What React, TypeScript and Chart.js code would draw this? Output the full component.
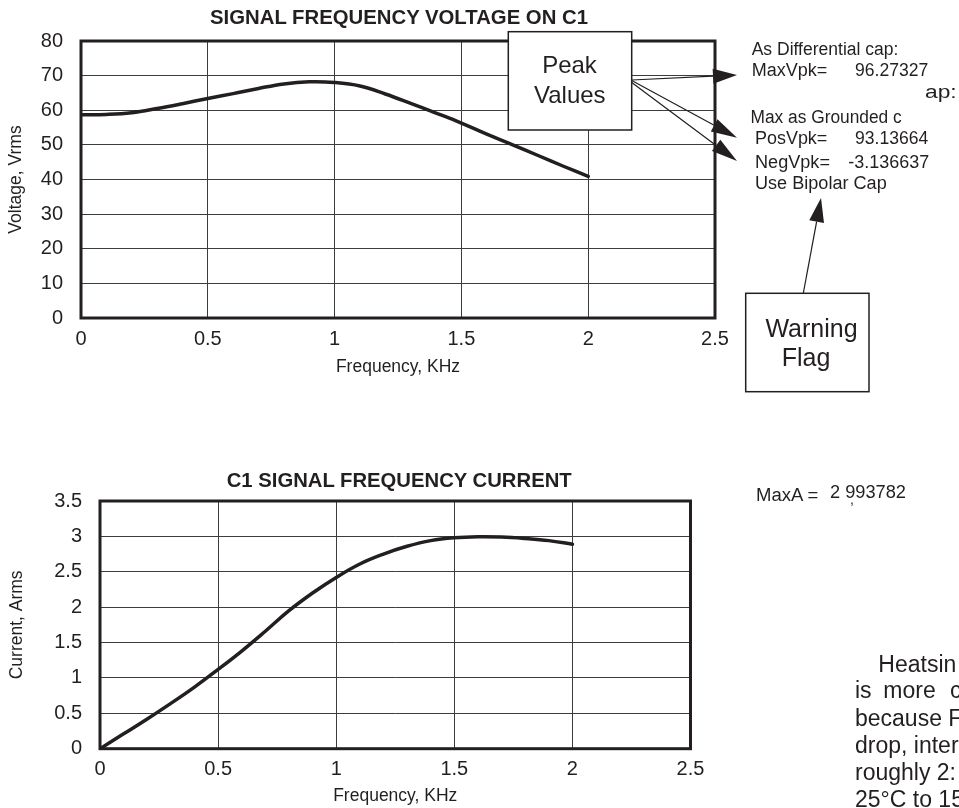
import React, { useEffect, useRef } from "react";
import { Chart, registerables } from "chart.js";

Chart.register(...registerables);

// ---------- data ----------
const freqKHz = [0, 0.1, 0.2, 0.3, 0.4, 0.5, 0.6, 0.7, 0.8, 0.9, 1.0, 1.1, 1.2, 1.3, 1.4, 1.5, 1.6, 1.7, 1.8, 1.9, 2.0];
const voltageVrms = [58.7, 58.8, 59.3, 60.5, 61.9, 63.4, 64.8, 66.3, 67.6, 68.2, 68.0, 67.0, 64.7, 62.0, 59.2, 56.3, 53.1, 50.1, 47.0, 43.9, 40.9];
const currentArms = [0, 0.21, 0.42, 0.64, 0.87, 1.12, 1.38, 1.66, 1.95, 2.2, 2.42, 2.61, 2.75, 2.86, 2.94, 2.98, 2.994, 2.99, 2.97, 2.94, 2.89];

const xTicksKHz = [0, 0.5, 1, 1.5, 2, 2.5];
const voltageTicks = [0, 10, 20, 30, 40, 50, 60, 70, 80];
const currentTicks = [0, 0.5, 1, 1.5, 2, 2.5, 3, 3.5];

const voltageTitle = "SIGNAL FREQUENCY VOLTAGE ON C1";
const currentTitle = "C1 SIGNAL FREQUENCY CURRENT";
const xAxisTitle = "Frequency, KHz";
const voltageAxisTitle = "Voltage, Vrms";
const currentAxisTitle = "Current, Arms";

const FONT = '"Liberation Sans", Arial, Helvetica, sans-serif';
const INK = "#231f20";
const GRID = "#3c3c3c";

const framePlugin = {
  id: "frame",
  beforeDatasetsDraw(chart: any) {
    const { ctx, chartArea } = chart;
    const { left, top, right, bottom } = chartArea;
    ctx.save();
    ctx.strokeStyle = INK;
    ctx.lineWidth = 3;
    ctx.strokeRect(left, top, right - left, bottom - top);
    ctx.restore();
  },
};

type PanelProps = {
  top: number;
  height: number;
  ys: number[];
  yTicks: number[];
  yTitle: string;
  padding: { left: number; right: number; top: number; bottom: number };
  yWidth: number;
  xHeight: number;
  yTitlePad: number;
  xTitlePad: number;
};

function Panel(p: PanelProps) {
  const ref = useRef<HTMLCanvasElement | null>(null);
  useEffect(() => {
    if (!ref.current) return;
    const yMin = p.yTicks[0];
    const yMax = p.yTicks[p.yTicks.length - 1];
    const chart = new Chart(ref.current, {
      type: "line",
      data: {
        datasets: [
          {
            data: freqKHz.map((x, i) => ({ x, y: p.ys[i] })),
            borderColor: INK,
            borderWidth: 3.5,
            pointRadius: 0,
            fill: false,
            tension: 0.4,
            borderCapStyle: "round",
            borderJoinStyle: "round",
          } as any,
        ],
      },
      options: {
        animation: false,
        responsive: false,
        devicePixelRatio: 1,
        events: [],
        layout: { padding: p.padding },
        plugins: {
          legend: { display: false },
          title: { display: false },
          tooltip: { enabled: false },
        },
        scales: {
          x: {
            type: "linear",
            min: xTicksKHz[0],
            max: xTicksKHz[xTicksKHz.length - 1],
            afterBuildTicks: (s: any) => {
              s.ticks = xTicksKHz.map((v) => ({ value: v }));
            },
            ticks: {
              font: { family: FONT, size: 20 },
              color: INK,
              padding: 9,
              maxRotation: 0,
              autoSkip: false,
              callback: (v: any) => String(v),
            },
            grid: { color: GRID, lineWidth: 1, drawTicks: false },
            border: { display: false },
            title: {
              display: true,
              text: xAxisTitle,
              font: { family: FONT, size: 17.5, lineHeight: 1 },
              color: INK,
              padding: { top: 0, bottom: p.xTitlePad },
            },
            afterFit: (s: any) => {
              s.height = p.xHeight;
            },
          },
          y: {
            type: "linear",
            min: yMin,
            max: yMax,
            afterBuildTicks: (s: any) => {
              s.ticks = p.yTicks.map((v) => ({ value: v }));
            },
            ticks: {
              font: { family: FONT, size: 20 },
              color: INK,
              padding: 18,
              callback: (v: any) => String(v),
            },
            grid: { color: GRID, lineWidth: 1, drawTicks: false },
            border: { display: false },
            title: {
              display: true,
              text: p.yTitle,
              font: { family: FONT, size: 17.5, lineHeight: 1 },
              color: INK,
              padding: { top: p.yTitlePad, bottom: 0 },
            },
            afterFit: (s: any) => {
              s.width = p.yWidth;
            },
          },
        },
      } as any,
      plugins: [framePlugin],
    });
    return () => chart.destroy();
  }, []);
  return (
    <canvas
      ref={ref}
      width={959}
      height={p.height}
      style={{ position: "absolute", left: 0, top: p.top, width: 959, height: p.height }}
    />
  );
}

function arrow(x1: number, y1: number, x2: number, y2: number, len = 24, w = 14) {
  const dx = x2 - x1;
  const dy = y2 - y1;
  const L = Math.hypot(dx, dy);
  const ux = dx / L;
  const uy = dy / L;
  const bx = x2 - ux * len;
  const by = y2 - uy * len;
  const nx = -uy;
  const ny = ux;
  return (
    <g>
      <line x1={x1} y1={y1} x2={bx} y2={by} stroke={INK} strokeWidth={1.2} />
      <polygon
        points={`${x2},${y2} ${bx + (nx * w) / 2},${by + (ny * w) / 2} ${bx - (nx * w) / 2},${by - (ny * w) / 2}`}
        fill={INK}
      />
    </g>
  );
}

type T = { t: string; x: number; y: number; s: number; w?: number; b?: boolean; a?: "start" | "middle" };

const overlayTexts: T[] = [
  { t: voltageTitle, x: 399, y: 24, s: 20, w: 378, b: true, a: "middle" },
  { t: currentTitle, x: 399.2, y: 487, s: 20, w: 345, b: true, a: "middle" },
  { t: "As Differential cap:", x: 751.7, y: 55, s: 18, w: 146.7 },
  { t: "MaxVpk=", x: 751.7, y: 75.7, s: 18, w: 75.6 },
  { t: "96.27327", x: 855, y: 75.7, s: 18, w: 73.3 },
  { t: "ap:", x: 925, y: 98, s: 18, w: 31.7 },
  { t: "Max as Grounded c", x: 750.5, y: 123, s: 18, w: 151.2 },
  { t: "PosVpk=", x: 755, y: 144.3, s: 18, w: 72.3 },
  { t: "93.13664", x: 855, y: 144.3, s: 18, w: 73.3 },
  { t: "NegVpk=", x: 755, y: 168.3, s: 18, w: 75 },
  { t: "-3.136637", x: 848.3, y: 168.3, s: 18, w: 81 },
  { t: "Use Bipolar Cap", x: 755, y: 189, s: 18, w: 131.7 },
  { t: "MaxA =", x: 756, y: 501, s: 18, w: 62.3 },
  { t: "2 993782", x: 830, y: 497.7, s: 18, w: 76 },
  { t: ",", x: 850, y: 504, s: 14 },
  { t: "Heatsin", x: 878.3, y: 671.7, s: 23 },
  { t: "is", x: 855, y: 698.3, s: 23 },
  { t: "more", x: 883.3, y: 698.3, s: 23 },
  { t: "c", x: 950, y: 698.3, s: 23 },
  { t: "because F", x: 855, y: 726, s: 23 },
  { t: "drop, inter", x: 855, y: 753.3, s: 23 },
  { t: "roughly 2:", x: 855, y: 780, s: 23 },
  { t: "25°C to 15", x: 855, y: 806.7, s: 23 },
];

function Overlay() {
  return (
    <svg
      width={959}
      height={808}
      style={{ position: "absolute", left: 0, top: 0, pointerEvents: "none" }}
    >
      {/* Peak Values box */}
      <rect x={508.3} y={31.7} width={123.4} height={98.3} fill="#fff" stroke={INK} strokeWidth={1.5} />
      <text x={569.5} y={73.3} fontSize={24} fontFamily={FONT} fill={INK} textAnchor="middle">Peak</text>
      <text x={569.8} y={103.3} fontSize={24} fontFamily={FONT} fill={INK} textAnchor="middle">Values</text>
      {arrow(631.7, 80, 737, 75, 24, 15)}
      {arrow(631.7, 80.5, 737, 137.7, 26, 14)}
      {arrow(631.7, 82.5, 737, 161, 26, 14)}

      {/* Warning Flag box */}
      <rect x={745.7} y={293.3} width={123.3} height={98.4} fill="#fff" stroke={INK} strokeWidth={1.5} />
      <text x={811.5} y={337.3} fontSize={25} fontFamily={FONT} fill={INK} textAnchor="middle">Warning</text>
      <text x={806} y={365.7} fontSize={25} fontFamily={FONT} fill={INK} textAnchor="middle">Flag</text>
      {arrow(803.3, 293.3, 821, 198, 24, 15)}

      {overlayTexts.map((o, i) => (
        <text
          key={i}
          x={o.x}
          y={o.y}
          fontSize={o.s}
          fontFamily={FONT}
          fontWeight={o.b ? "bold" : "normal"}
          fill={INK}
          textAnchor={o.a || "start"}
          {...(o.w ? { textLength: o.w, lengthAdjust: "spacingAndGlyphs" } : {})}
        >
          {o.t}
        </text>
      ))}
    </svg>
  );
}

export default function App() {
  return (
    <div
      style={{
        position: "absolute",
        left: 0,
        top: 0,
        width: 959,
        height: 808,
        overflow: "hidden",
        background: "#fff",
      }}
    >
      <Panel
        top={0}
        height={420}
        ys={voltageVrms}
        yTicks={voltageTicks}
        yTitle={voltageAxisTitle}
        padding={{ left: 0, right: 244, top: 41, bottom: 42 }}
        yWidth={81}
        xHeight={60}
        yTitlePad={7.65}
        xTitlePad={2.25}
      />
      <Panel
        top={430}
        height={378}
        ys={currentArms}
        yTicks={currentTicks}
        yTitle={currentAxisTitle}
        padding={{ left: 0, right: 268.5, top: 71, bottom: 1.3 }}
        yWidth={100}
        xHeight={58}
        yTitlePad={8.75}
        xTitlePad={1.95}
      />
      <Overlay />
    </div>
  );
}
